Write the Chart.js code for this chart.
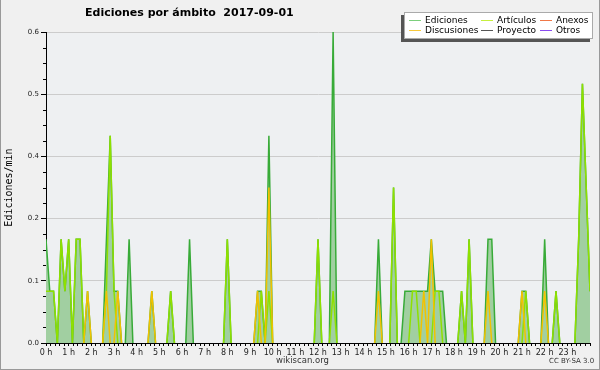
<!DOCTYPE html>
<html lang="es">
<head>
<meta charset="utf-8">
<title>Ediciones por ámbito 2017-09-01</title>
<script src="https://cdn.jsdelivr.net/npm/chart.js@4.4.0/dist/chart.umd.min.js"></script>
<style>
  body { margin: 0; background: #fff; }
  #grafico { position: relative; width: 600px; height: 370px; background: #f0f0f0; overflow: hidden; font-family: "DejaVu Sans", sans-serif; }
  #grafico canvas { position: absolute; left: 0; top: 0; }
  #titulo { position: absolute; left: 85px; top: 6px; font-size: 11px; font-weight: bold; white-space: pre; color: #000; }
  #leyenda { position: absolute; left: 404px; top: 12px; width: 187px; height: 25px; background: #fff; border: 1px solid #aaa; box-shadow: -3px 3px 0 #555; }
  .item { position: absolute; font-size: 9px; line-height: 10px; color: #000; white-space: nowrap; }
  .item i { position: absolute; left: -16px; top: 5px; width: 12px; height: 1px; }
  #sitio { position: absolute; left: 276px; top: 355px; font-size: 8.5px; color: #333; }
  #licencia { position: absolute; left: 549px; top: 357px; font-size: 7px; color: #333; }
  #marco { position: absolute; left: 0; top: 0; right: 0; bottom: 0; border: 1px solid #999; border-top: none; pointer-events: none; }
</style>
</head>
<body>
<div id="grafico">
  <canvas id="graph-ambito" width="600" height="370"></canvas>
  <div id="titulo">Ediciones por ámbito  2017-09-01</div>
  <div id="leyenda"></div>
  <div id="sitio">wikiscan.org</div>
  <div id="licencia">CC BY-SA 3.0</div>
  <div id="marco"></div>
</div>
<script>
// Ediciones por minuto, tramos de 10 min (0 h ... 24 h)
const ediciones = [
  0.2,0.1,0.1,0,0.2,0.1, 0.2,0,0.2,0.2,0,0.1,     // 0 h - 1 h
  0,0,0,0,0.2,0.4, 0.1,0.1,0,0,0.2,0,             // 2 h - 3 h
  0,0,0,0,0.1,0, 0,0,0,0.1,0,0,                   // 4 h - 5 h
  0,0,0.2,0,0,0, 0,0,0,0,0,0,                     // 6 h - 7 h
  0.2,0,0,0,0,0, 0,0,0.1,0.1,0,0.4,               // 8 h - 9 h
  0,0,0,0,0,0, 0,0,0,0,0,0,                       // 10 h - 11 h
  0.2,0,0,0,0.6,0, 0,0,0,0,0,0,                   // 12 h - 13 h
  0,0,0,0,0.2,0, 0,0,0.3,0,0,0.1,                 // 14 h - 15 h
  0.1,0.1,0.1,0.1,0.1,0.1, 0.2,0.1,0.1,0.1,0,0,   // 16 h - 17 h
  0,0,0.1,0,0.2,0, 0,0,0,0.2,0.2,0,               // 18 h - 19 h
  0,0,0,0,0,0, 0.1,0.1,0,0,0,0,                   // 20 h - 21 h
  0.2,0,0,0.1,0,0, 0,0,0,0.2,0.5,0.3,             // 22 h - 23 h
  0.1
];
const articulos = [
  0.1,0.1,0.1,0,0.2,0.1, 0.2,0,0.2,0.2,0,0,
  0,0,0,0,0.1,0.4, 0.1,0,0,0,0,0,
  0,0,0,0,0,0, 0,0,0,0.1,0,0,
  0,0,0,0,0,0, 0,0,0,0,0,0,
  0.2,0,0,0,0,0, 0,0,0,0.1,0,0.1,
  0,0,0,0,0,0, 0,0,0,0,0,0,
  0.2,0,0,0,0.1,0, 0,0,0,0,0,0,
  0,0,0,0,0,0, 0,0,0.3,0,0,0,
  0,0.1,0.1,0,0,0, 0,0.1,0.1,0,0,0,
  0,0,0.1,0,0.2,0, 0,0,0,0,0,0,
  0,0,0,0,0,0, 0,0.1,0,0,0,0,
  0,0,0,0.1,0,0, 0,0,0,0.2,0.5,0.3,
  0.1
];
const discusiones = [
  0,0,0,0,0,0, 0,0,0,0,0,0.1,
  0,0,0,0,0.1,0, 0,0.1,0,0,0,0,
  0,0,0,0,0.1,0, 0,0,0,0,0,0,
  0,0,0,0,0,0, 0,0,0,0,0,0,
  0,0,0,0,0,0, 0,0,0.1,0,0,0.3,
  0,0,0,0,0,0, 0,0,0,0,0,0,
  0,0,0,0,0,0, 0,0,0,0,0,0,
  0,0,0,0,0.1,0, 0,0,0,0,0,0,
  0,0,0,0,0.1,0, 0.2,0,0,0,0,0,
  0,0,0,0,0,0, 0,0,0,0.1,0,0,
  0,0,0,0,0,0, 0.1,0,0,0,0,0,
  0.1,0,0,0,0,0, 0,0,0,0,0,0,
  0
];

// Leyenda : 3 columnas, 2 filas
const leyendaNombres = ['Ediciones', 'Discusiones', 'Artículos', 'Proyecto', 'Anexos', 'Otros'];
const leyendaColores = ['#7ccf7c', '#f8c93c', '#c6ef3e', '#555555', '#f07848', '#8a4cf0'];

const yMax = 0.6;
const yPaso = 0.12;   // marcas principales (etiquetas redondeadas a 1 decimal)

const puntos = serie => serie.map((v, i) => ({ x: i / 6, y: v }));
const esPrincipal = v => Math.abs(v / yPaso - Math.round(v / yPaso)) < 1e-6;
// no dibujar el trazo sobre el eje cuando dos tramos seguidos valen 0
const sinBase = { borderColor: c => (c.p0.parsed.y === 0 && c.p1.parsed.y === 0) ? 'transparent' : undefined };

const fondoArea = {
  id: 'fondoArea',
  beforeDraw(chart) {
    const { ctx, chartArea: a } = chart;
    ctx.save();
    ctx.fillStyle = '#eef0f2';
    ctx.fillRect(a.left, a.top, a.right - a.left, a.bottom - a.top);
    ctx.restore();
  }
};

// marcas secundarias del eje Y, mas cortas
const marcasCortas = {
  id: 'marcasCortas',
  afterDraw(chart) {
    const { ctx, scales: { y } } = chart;
    ctx.save();
    ctx.strokeStyle = '#000';
    ctx.lineWidth = 1;
    y.ticks.forEach(t => {
      if (esPrincipal(t.value)) return;
      const py = Math.round(y.getPixelForValue(t.value)) + 0.5;
      ctx.beginPath();
      ctx.moveTo(y.right - 3, py);
      ctx.lineTo(y.right, py);
      ctx.stroke();
    });
    ctx.restore();
  }
};

const ctx = document.getElementById('graph-ambito').getContext('2d');
window.ambitoChart = new Chart(ctx, {
  type: 'line',
  data: {
    datasets: [
      {
        label: 'Discusiones',
        data: puntos(discusiones),
        borderColor: '#f2c200',
        borderWidth: 1.5,
        fill: false,
        segment: sinBase,
        order: 0
      },
      {
        label: 'Artículos',
        data: puntos(articulos),
        borderColor: '#8fe000',
        borderWidth: 1.5,
        fill: false,
        segment: sinBase,
        order: 1
      },
      {
        label: 'Ediciones',
        data: puntos(ediciones),
        borderColor: '#38ab38',
        backgroundColor: '#a1cfa1',
        borderWidth: 1.5,
        fill: 'origin',
        segment: sinBase,
        order: 2
      }
    ]
  },
  options: {
    responsive: false,
    animation: false,
    devicePixelRatio: 1,
    layout: { padding: { left: 0, right: 10, top: 32, bottom: 0 } },
    elements: { point: { radius: 0 }, line: { tension: 0 } },
    plugins: {
      legend: { display: false },
      title: { display: false },
      tooltip: { enabled: false }
    },
    scales: {
      x: {
        type: 'linear',
        min: 0,
        max: 24,
        afterFit: s => { s.height = 27; },
        border: { color: '#000', width: 1 },
        grid: { drawOnChartArea: false, tickLength: 3, tickColor: '#000' },
        ticks: {
          stepSize: 0.2,
          autoSkip: false,
          maxRotation: 0,
          padding: 2,
          color: '#222',
          font: { family: 'DejaVu Sans', size: 8 },
          callback: v => (Math.abs(v - Math.round(v)) < 1e-6 && v < 24) ? Math.round(v) + ' h' : ''
        }
      },
      y: {
        min: 0,
        max: yMax,
        afterFit: s => { s.width = 46; },
        border: { color: '#000', width: 1 },
        grid: {
          tickLength: 5,
          tickColor: c => esPrincipal(c.tick.value) ? '#000' : 'transparent',
          color: c => (esPrincipal(c.tick.value) && c.tick.value > 0) ? '#cccccc' : 'transparent'
        },
        title: {
          display: true,
          text: 'Ediciones/min',
          color: '#000',
          padding: { top: 3, bottom: 0 },
          font: { family: 'DejaVu Sans Mono', size: 10 }
        },
        ticks: {
          stepSize: 0.03,
          padding: 2,
          color: '#222',
          font: { family: 'DejaVu Sans', size: 7 },
          callback: v => esPrincipal(v) ? v.toFixed(1) : ''
        }
      }
    }
  },
  plugins: [fondoArea, marcasCortas]
});

// Leyenda en HTML
const colX = [20, 92, 151];
const filaY = [2, 12];
let html = '';
leyendaNombres.forEach((nombre, i) => {
  const col = Math.floor(i / 2), fila = i % 2;
  html += `<div class="item" style="left:${colX[col]}px;top:${filaY[fila]}px"><i style="background:${leyendaColores[i]}"></i>${nombre}</div>`;
});
document.getElementById('leyenda').innerHTML = html;
</script>
</body>
</html>
